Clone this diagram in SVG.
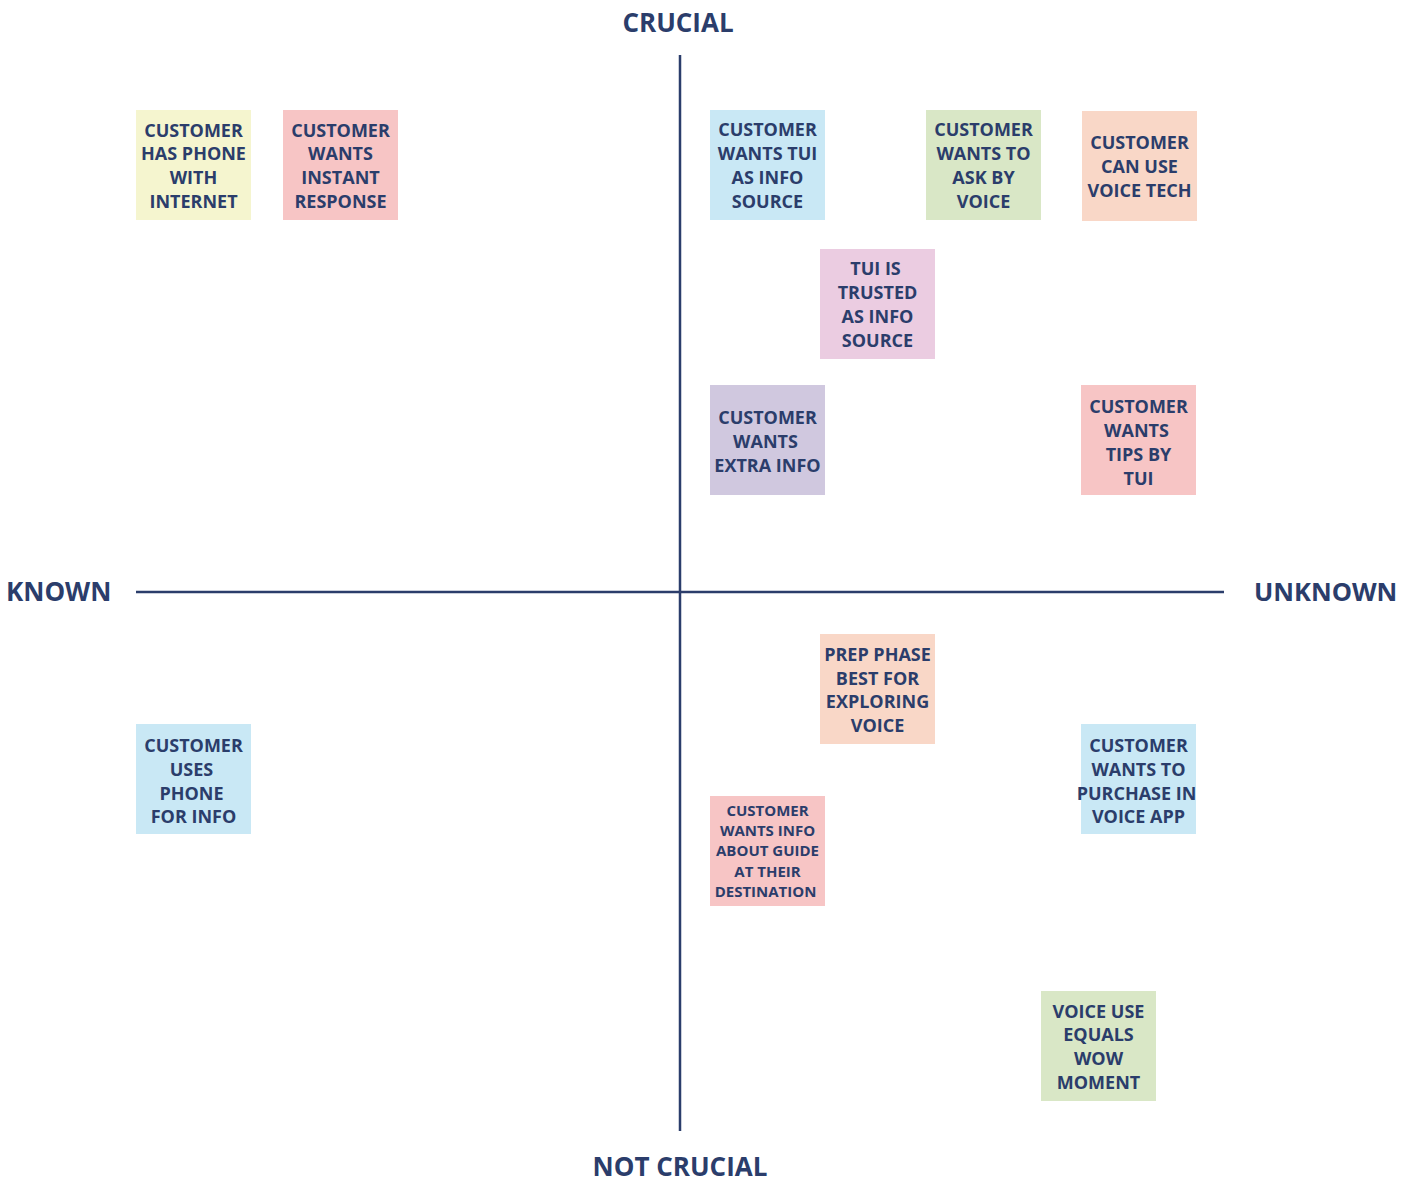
<svg xmlns="http://www.w3.org/2000/svg" width="1413" height="1183" viewBox="0 0 1413 1183">
<style>
.n text{font-family:"Open Sans","Noto Sans",sans-serif;font-weight:700;font-size:18px;fill:#2b3d6b;text-anchor:middle}
.s text{font-size:15px}
.ax{font-family:"Open Sans","Noto Sans",sans-serif;font-weight:700;font-size:26px;fill:#2b3d6b}
.axis line{stroke:#2b3d6b;stroke-width:2.5}
</style>
<rect width="1413" height="1183" fill="#ffffff"/>
<g id="axes" class="axis">
<line x1="680" y1="55" x2="680" y2="1131"/>
<line x1="136" y1="592" x2="1224" y2="592"/>
</g>
<text class="ax" x="678" y="32" text-anchor="middle">CRUCIAL</text>
<text class="ax" x="680" y="1176" text-anchor="middle">NOT CRUCIAL</text>
<text class="ax" x="6" y="601">KNOWN</text>
<text class="ax" x="1254" y="601" style="font-size:25.5px">UNKNOWN</text>

<g id="n1" class="n"><rect x="136" y="110" width="115" height="110" fill="#f5f5cf"/>
<text x="193.5" y="137">CUSTOMER</text><text x="193.5" y="160">HAS PHONE</text><text x="193.5" y="184">WITH</text><text x="193.5" y="208">INTERNET</text></g>

<g id="n2" class="n"><rect x="283" y="110" width="115" height="110" fill="#f7c5c5"/>
<text x="340.5" y="137">CUSTOMER</text><text x="340.5" y="160">WANTS</text><text x="340.5" y="184">INSTANT</text><text x="340.5" y="208">RESPONSE</text></g>

<g id="n3" class="n"><rect x="710" y="110" width="115" height="110" fill="#c9e8f5"/>
<text x="767.5" y="136">CUSTOMER</text><text x="767.5" y="160">WANTS TUI</text><text x="767.5" y="184">AS INFO</text><text x="767.5" y="208">SOURCE</text></g>

<g id="n4" class="n"><rect x="926" y="110" width="115" height="110" fill="#d9e7c6"/>
<text x="983.5" y="136">CUSTOMER</text><text x="983.5" y="160">WANTS TO</text><text x="983.5" y="184">ASK BY</text><text x="983.5" y="208">VOICE</text></g>

<g id="n5" class="n"><rect x="1082" y="111" width="115" height="110" fill="#f9d7c7"/>
<text x="1139.5" y="149">CUSTOMER</text><text x="1139.5" y="173">CAN USE</text><text x="1139.5" y="197">VOICE TECH</text></g>

<g id="n6" class="n"><rect x="820" y="249" width="115" height="110" fill="#ebcce1"/>
<text x="875.5" y="275">TUI IS</text><text x="877.5" y="299">TRUSTED</text><text x="877.5" y="323">AS INFO</text><text x="877.5" y="347">SOURCE</text></g>

<g id="n7" class="n"><rect x="710" y="385" width="115" height="110" fill="#d0c8df"/>
<text x="767.5" y="424">CUSTOMER</text><text x="765.5" y="448">WANTS</text><text x="767.5" y="472">EXTRA INFO</text></g>

<g id="n8" class="n"><rect x="1081" y="385" width="115" height="110" fill="#f7c5c5"/>
<text x="1138.5" y="413">CUSTOMER</text><text x="1136.5" y="437">WANTS</text><text x="1138.5" y="461">TIPS BY</text><text x="1138.5" y="485">TUI</text></g>

<g id="n9" class="n"><rect x="820" y="634" width="115" height="110" fill="#f9d7c7"/>
<text x="877.5" y="661">PREP PHASE</text><text x="877.5" y="685">BEST FOR</text><text x="877.5" y="708">EXPLORING</text><text x="877.5" y="732">VOICE</text></g>

<g id="n10" class="n"><rect x="1081" y="724" width="115" height="110" fill="#c9e8f5"/>
<text x="1138.5" y="752">CUSTOMER</text><text x="1138.5" y="776">WANTS TO</text><text x="1136.5" y="800">PURCHASE IN</text><text x="1138.5" y="823">VOICE APP</text></g>

<g id="n11" class="n s"><rect x="710" y="796" width="115" height="110" fill="#f7c5c5"/>
<text x="767.5" y="816">CUSTOMER</text><text x="767.5" y="836">WANTS INFO</text><text x="767.5" y="856">ABOUT GUIDE</text><text x="767.5" y="877">AT THEIR</text><text x="765.5" y="897">DESTINATION</text></g>

<g id="n12" class="n"><rect x="1041" y="991" width="115" height="110" fill="#d9e7c6"/>
<text x="1098.5" y="1018">VOICE USE</text><text x="1098.5" y="1041">EQUALS</text><text x="1098.5" y="1065">WOW</text><text x="1098.5" y="1089">MOMENT</text></g>

<g id="n13" class="n"><rect x="136" y="724" width="115" height="110" fill="#c9e8f5"/>
<text x="193.5" y="752">CUSTOMER</text><text x="191.5" y="776">USES</text><text x="191.5" y="800">PHONE</text><text x="193.5" y="823">FOR INFO</text></g>
</svg>
